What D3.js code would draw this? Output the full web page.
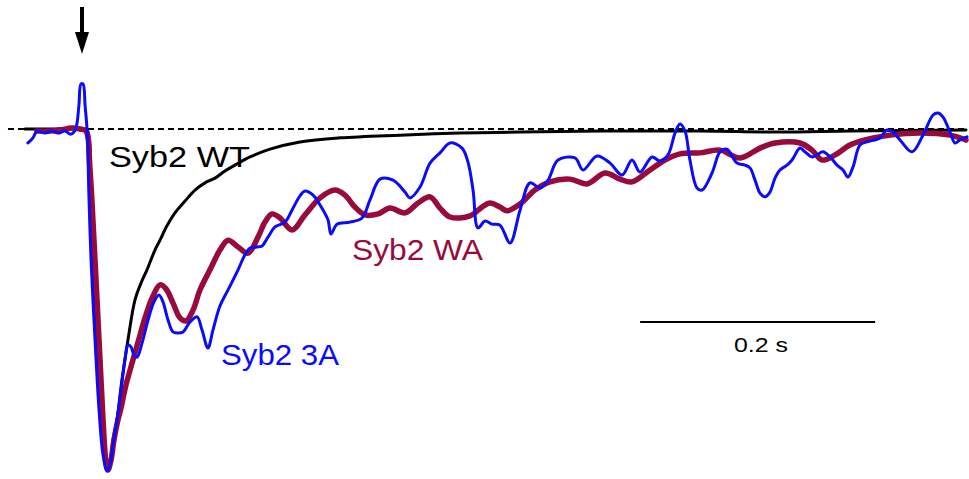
<!DOCTYPE html>
<html>
<head>
<meta charset="utf-8">
<script src="https://cdn.jsdelivr.net/npm/d3@7"></script>
<style>
  html, body { margin: 0; padding: 0; background: #fff; }
  svg { display: block; font-family: "Liberation Sans", Arial, sans-serif; }
</style>
</head>
<body>
<div id="chart"></div>
<script>
// time in ms after stimulus, amplitude in % of peak (normalized traces)
const wtTime = [-48.5, -27.2, 1.7, 4.3, 8.5, 15.3, 18.7, 21.3, 23.8, 26.4, 29.8, 34.0, 39.1, 45.1, 50.2, 55.3, 62.1, 66.4, 72.3, 79.1, 87.7, 96.2, 104.7, 113.2, 121.7, 130.2, 143.0, 160.0, 185.5, 219.6, 270.6, 321.7, 372.8, 440.9, 526.0, 594.0, 653.6, 752.3]
const wtAmp = [0, 0, 0, -0.3, -32.6, -76.5, -94.1, -100, -97.7, -91.2, -85.3, -73.6, -61.9, -50.1, -45.2, -41.3, -35.5, -32.6, -28.4, -24.6, -21.1, -17.9, -15.8, -14.4, -12.3, -10.6, -8.2, -5.9, -3.8, -2.6, -1.8, -1.2, -0.9, -0.6, -0.6, -0.9, -0.6, -0.3]

const waTime = [-38.3, -27.2, -18.7, -8.5, -1.7, 3.4, 6.8, 10.2, 14.5, 17.9, 20.4, 22.1, 24.7, 27.2, 30.6, 33.2, 37.4, 43.4, 49.4, 53.6, 59.6, 66.4, 71.5, 77.4, 83.4, 88.5, 94.5, 100.4, 108.9, 117.4, 124.3, 132.8, 141.3, 149.8, 155.7, 161.7, 168.5, 178.7, 189.8, 202.6, 215.3, 223.8, 232.3, 240.9, 251.9, 262.1, 274.9, 286.0, 296.2, 304.7, 313.2, 330.2, 340.4, 347.2, 355.7, 361.7, 372.8, 385.5, 398.3, 415.3, 429.8, 445.1, 457.9, 468.1, 483.4, 496.2, 508.9, 525.9, 543.0, 560.0, 577.0, 589.8, 611.1, 621.3, 629.8, 640.9, 653.6, 666.4, 687.7, 713.2, 738.7, 752.3]
const waAmp = [-0.6, -0.6, -0.3, 0.3, 0, -0.6, -12.0, -32.6, -61.9, -85.3, -97.7, -100, -97.1, -91.2, -85.3, -81.8, -75.1, -67.7, -60.4, -55.4, -49.6, -45.7, -46.9, -51.0, -55.4, -56.3, -53.1, -47.2, -41.3, -35.5, -32.6, -34.6, -36.4, -31.7, -27.3, -24.9, -26.1, -29.6, -25.2, -20.2, -17.9, -19.4, -22.9, -25.2, -24.9, -23.2, -24.6, -21.7, -19.9, -23.2, -25.8, -25.5, -22.9, -21.7, -22.9, -24.0, -22.0, -17.9, -15.5, -14.7, -16.1, -12.9, -14.7, -15.5, -12.0, -9.1, -7.3, -7.0, -6.2, -8.5, -5.6, -4.1, -4.1, -6.2, -9.1, -7.6, -4.7, -3.2, -1.8, -1.2, -1.8, -3.2]

const a3Time = [-46.0, -41.7, -38.3, -31.5, -25.5, -20.4, -14.5, -10.2, -7.7, -5.1, -2.6, -0.9, 0.9, 2.6, 4.3, 6.0, 7.7, 11.1, 14.5, 17.9, 21.3, 23.8, 26.4, 29.8, 33.2, 36.6, 39.1, 41.7, 44.3, 46.8, 51.1, 56.2, 61.3, 65.5, 68.9, 73.2, 77.4, 81.7, 86.0, 91.9, 97.9, 102.1, 107.2, 111.5, 117.4, 124.3, 132.8, 138.7, 143.0, 148.9, 153.2, 158.3, 164.3, 172.8, 178.7, 185.5, 189.8, 196.6, 202.6, 209.4, 211.9, 217.0, 228.1, 238.3, 245.1, 253.6, 264.7, 274.9, 279.1, 287.7, 296.2, 304.7, 313.2, 323.4, 328.5, 332.8, 337.0, 343.0, 348.9, 355.7, 364.3, 372.8, 381.3, 389.8, 396.6, 405.1, 419.6, 426.4, 438.3, 449.4, 459.6, 468.1, 474.9, 485.1, 491.9, 498.7, 504.7, 508.9, 513.2, 517.4, 523.4, 527.7, 536.2, 543.0, 548.9, 557.4, 564.3, 568.5, 572.8, 577.0, 581.3, 585.5, 589.8, 594.0, 600.0, 604.3, 611.1, 615.3, 621.3, 625.5, 630.6, 636.6, 642.6, 647.7, 651.9, 656.2, 662.1, 668.1, 679.1, 685.1, 690.2, 696.2, 706.4, 715.7, 724.3, 728.5, 732.8, 738.7, 743.0, 747.2, 753.2]
const a3Amp = [-4.1, -2.6, -0.6, -1.2, -0.6, -1.2, -0.6, -1.5, -1.2, 0.3, 7.0, 13.2, 13.2, 7.0, -0.3, -20.8, -38.4, -61.9, -82.4, -95.6, -100.3, -98.5, -92.7, -85.3, -76.5, -67.7, -63.3, -63.9, -66.3, -66.9, -62.8, -56.0, -50.7, -48.7, -50.7, -56.0, -59.5, -59.8, -59.5, -56.6, -55.1, -58.9, -64.2, -58.9, -51.9, -47.2, -41.3, -36.9, -34.9, -34.6, -34.3, -31.7, -28.7, -27.3, -23.8, -19.6, -18.2, -19.4, -22.3, -26.7, -30.8, -27.9, -27.3, -26.1, -20.8, -14.7, -15.0, -18.5, -20.2, -17.0, -10.0, -7.0, -4.1, -5.6, -9.7, -17.9, -29.0, -27.0, -27.9, -28.2, -33.4, -23.8, -15.8, -17.3, -15.0, -9.1, -8.5, -12.0, -7.9, -10.0, -13.5, -9.1, -12.6, -8.2, -9.4, -7.6, -1.2, 1.5, -0.6, -9.1, -17.3, -17.9, -12.9, -6.7, -5.9, -10.0, -10.6, -11.4, -15.0, -18.8, -19.9, -18.5, -14.4, -12.0, -10.6, -9.1, -5.6, -6.7, -8.2, -7.6, -6.7, -8.2, -10.6, -12.0, -14.1, -11.1, -4.7, -3.8, -2.6, -0.3, -0.9, -3.2, -6.7, -1.8, 4.1, 4.7, 3.5, -0.9, -4.1, -3.2, -2.3]

const labels = ["Syb2 WT", "Syb2 WA", "Syb2 3A"]
const scaleBarMs = 200
const scaleBarLabel = "0.2 s"

const width = 969, height = 479

const svg = d3.select("#chart")
    .append("svg")
    .attr("width", width)
    .attr("height", height)

// scales: 0.2 s bar is 235 px wide, stimulus at x=82
const x = d3.scaleLinear().domain([0, 200]).range([82, 317])
const y = d3.scaleLinear().domain([0, -100]).range([129, 470])

const line = d3.line()
    .x(d => x(d[0]))
    .y(d => y(d[1]))
    .curve(d3.curveCatmullRom.alpha(0.5))

const traces = [
    { t: wtTime, a: wtAmp, color: "#000", w: 3 },
    { t: waTime, a: waAmp, color: "#990a3c", w: 5.5 },
    { t: a3Time, a: a3Amp, color: "#0a0aff", w: 3 }
]

// baseline (dashed)
svg.append("line")
    .attr("x1", x(-63)).attr("x2", x(752))
    .attr("y1", y(0)).attr("y2", y(0))
    .attr("stroke", "#000")
    .attr("stroke-width", 2)
    .attr("stroke-dasharray", "6,4")

// traces
svg.append("g")
    .selectAll("path")
    .data(traces)
    .enter()
    .append("path")
    .attr("fill", "none")
    .attr("stroke", d => d.color)
    .attr("stroke-width", d => d.w)
    .attr("stroke-linejoin", "round")
    .attr("stroke-linecap", "round")
    .attr("d", d => line(d.t.map((t, i) => [t, d.a[i]])))

// stimulus arrow
const ax = x(0)
svg.append("line")
    .attr("x1", ax).attr("x2", ax)
    .attr("y1", 7).attr("y2", 34)
    .attr("stroke", "#000")
    .attr("stroke-width", 4)
svg.append("path")
    .attr("d", `M${ax - 7},32L${ax + 7},32L${ax},54Z`)
    .attr("fill", "#000")

// trace labels
const labelPos = [
    { x: 109, y: 167, len: 141, color: "#000" },
    { x: 352, y: 260, len: 131, color: "#990a3c" },
    { x: 221, y: 365, len: 118, color: "#0a0aff" }
]
svg.append("g")
    .selectAll("text")
    .data(labels)
    .enter()
    .append("text")
    .attr("x", (d, i) => labelPos[i].x)
    .attr("y", (d, i) => labelPos[i].y)
    .attr("textLength", (d, i) => labelPos[i].len)
    .attr("lengthAdjust", "spacingAndGlyphs")
    .style("font-size", "30px")
    .style("fill", (d, i) => labelPos[i].color)
    .text(d => d)

// scale bar
const barY = 322, barX0 = x(475)
svg.append("line")
    .attr("x1", barX0).attr("x2", barX0 + (x(scaleBarMs) - x(0)))
    .attr("y1", barY).attr("y2", barY)
    .attr("stroke", "#000")
    .attr("stroke-width", 2)
svg.append("text")
    .attr("x", 734)
    .attr("y", 352)
    .attr("textLength", 54)
    .attr("lengthAdjust", "spacingAndGlyphs")
    .style("font-size", "21px")
    .text(scaleBarLabel)
</script>
</body>
</html>
